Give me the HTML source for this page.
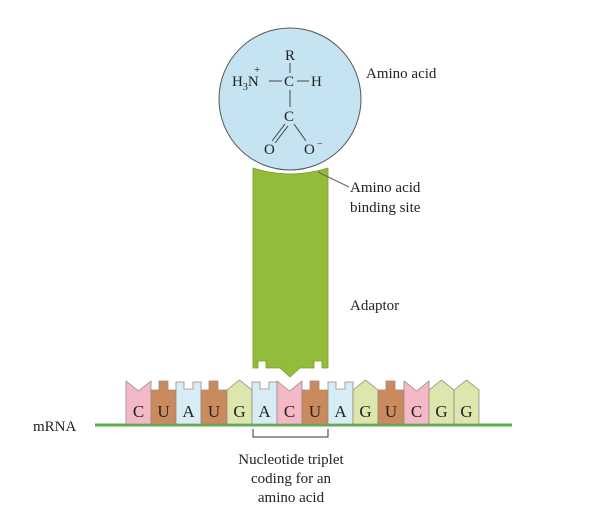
<!DOCTYPE html>
<html><head><style>
html,body{margin:0;padding:0;background:#fff}
svg{display:block}
text{font-family:"Liberation Serif",serif;fill:#222}
</style></head><body>
<svg width="614" height="531" viewBox="0 0 614 531">
<!-- adaptor -->
<path d="M253,168 Q290,180 328,168 L328,368 L322,368 L322,361 L314,361 L314,368 L300,368 L290,377 L280,368 L266,368 L266,361 L258,361 L258,368 L253,368 Z" fill="#92bc3a" stroke="#7a9e30" stroke-width="0.8"/>
<!-- circle -->
<circle cx="290" cy="99" r="71" fill="#c5e3f1" stroke="#555" stroke-width="1"/>
<g font-size="15">
<text x="285" y="60">R</text>
<text x="232" y="86">H<tspan font-size="10" dy="4">3</tspan><tspan dy="-4">N</tspan></text>
<text x="254" y="73" font-size="11">+</text>
<text x="284" y="86">C</text>
<text x="311" y="86">H</text>
<text x="284" y="121">C</text>
<text x="264" y="154">O</text>
<text x="304" y="154">O</text>
<text x="317" y="147" font-size="10">−</text>
</g>
<g stroke="#444" stroke-width="1">
<line x1="290" y1="63" x2="290" y2="73"/>
<line x1="269" y1="81" x2="282" y2="81"/>
<line x1="297" y1="81" x2="309" y2="81"/>
<line x1="290" y1="90" x2="290" y2="107"/>
<line x1="285" y1="124" x2="272" y2="141"/><line x1="288" y1="126" x2="275" y2="143"/>
<line x1="294" y1="124" x2="306" y2="141"/>
</g>
<text x="366" y="78" font-size="15">Amino acid</text>
<line x1="318" y1="172" x2="349" y2="187" stroke="#666" stroke-width="1"/>
<text x="350" y="192" font-size="15">Amino acid</text>
<text x="350" y="212" font-size="15">binding site</text>
<text x="350" y="310" font-size="15" fill="#333">Adaptor</text>
<!-- mRNA line -->
<line x1="95" y1="425" x2="512" y2="425" stroke="#5ab04a" stroke-width="3"/>
<text x="33" y="431" font-size="15">mRNA</text>
<!-- bracket -->
<path d="M253,429 L253,437 L328,437 L328,429" fill="none" stroke="#333" stroke-width="1"/>
<g font-size="15" text-anchor="middle">
<text x="291" y="464">Nucleotide triplet</text>
<text x="291" y="483">coding for an</text>
<text x="291" y="502">amino acid</text>
</g>
<g stroke="#9a8a80" stroke-width="0.8">
<path d="M126,381 L138.5,391 L151,381 L151,424 L126,424Z" fill="#f4b9c6"/>
<path d="M151,390 L159,390 L159,381 L168,381 L168,390 L176,390 L176,424 L151,424Z" fill="#c98a5e"/>
<path d="M176,382 L184,382 L184,389 L193,389 L193,382 L201,382 L201,424 L176,424Z" fill="#d6edf5"/>
<path d="M201,390 L209,390 L209,381 L218,381 L218,390 L227,390 L227,424 L201,424Z" fill="#c98a5e"/>
<path d="M227,390 L239.5,380 L252,390 L252,424 L227,424Z" fill="#dbe7ad"/>
<path d="M252,382 L260,382 L260,389 L269,389 L269,382 L277,382 L277,424 L252,424Z" fill="#d6edf5"/>
<path d="M277,381 L289.5,391 L302,381 L302,424 L277,424Z" fill="#f4b9c6"/>
<path d="M302,390 L310,390 L310,381 L319,381 L319,390 L328,390 L328,424 L302,424Z" fill="#c98a5e"/>
<path d="M328,382 L336,382 L336,389 L345,389 L345,382 L353,382 L353,424 L328,424Z" fill="#d6edf5"/>
<path d="M353,390 L365.5,380 L378,390 L378,424 L353,424Z" fill="#dbe7ad"/>
<path d="M378,390 L386,390 L386,381 L395,381 L395,390 L404,390 L404,424 L378,424Z" fill="#c98a5e"/>
<path d="M404,381 L416.5,391 L429,381 L429,424 L404,424Z" fill="#f4b9c6"/>
<path d="M429,390 L441.5,380 L454,390 L454,424 L429,424Z" fill="#dbe7ad"/>
<path d="M454,390 L466.5,380 L479,390 L479,424 L454,424Z" fill="#dbe7ad"/>
</g>
<g font-size="17" text-anchor="middle" fill="#444">
<text x="138.5" y="417" fill="#555">C</text><text x="163.5" y="417" fill="#5a3520">U</text>
<text x="188.5" y="417">A</text><text x="214" y="417" fill="#5a3520">U</text>
<text x="239.5" y="417" fill="#4a5a30">G</text><text x="264.5" y="417">A</text>
<text x="289.5" y="417" fill="#555">C</text><text x="315" y="417" fill="#5a3520">U</text>
<text x="340.5" y="417">A</text><text x="365.5" y="417" fill="#4a5a30">G</text>
<text x="391" y="417" fill="#5a3520">U</text><text x="416.5" y="417" fill="#555">C</text>
<text x="441.5" y="417" fill="#4a5a30">G</text><text x="466.5" y="417" fill="#4a5a30">G</text>
</g>
</svg>
</body></html>
